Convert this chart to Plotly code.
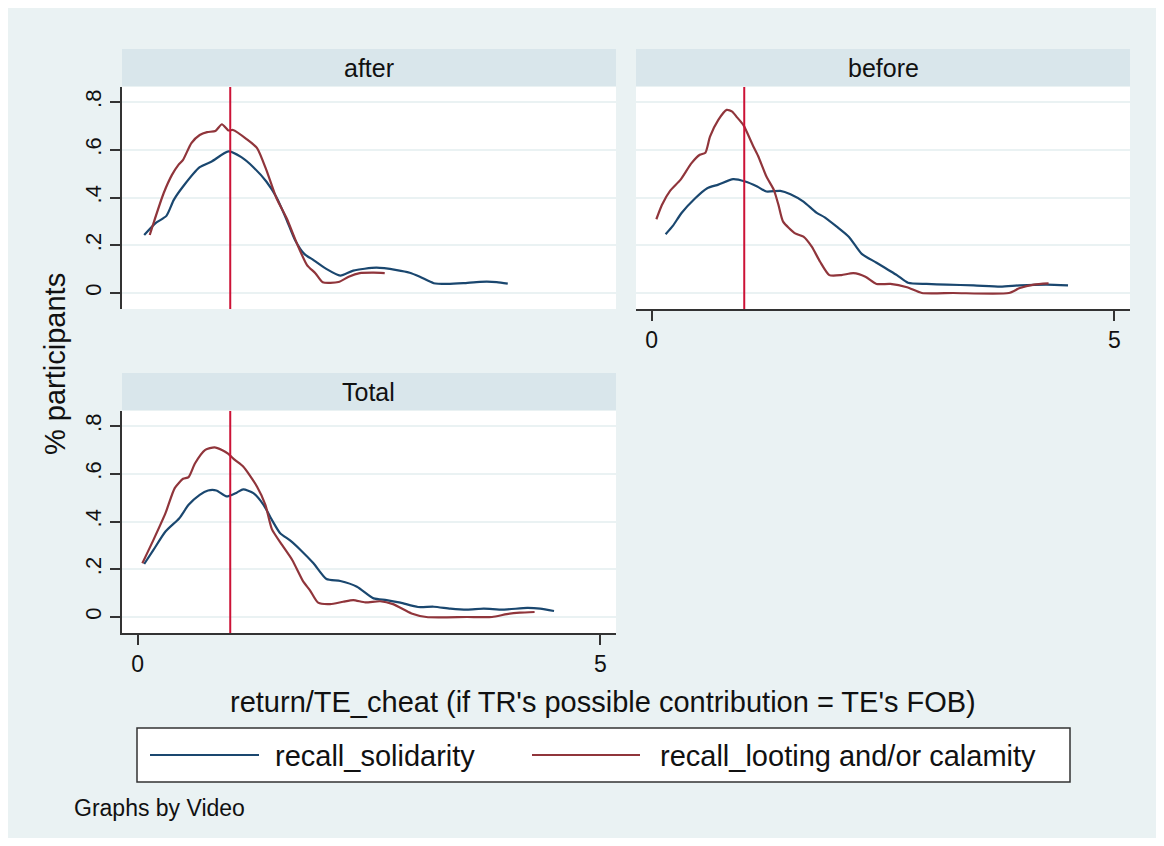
import plotly.graph_objects as go

# density-like curves, per panel (x = return/TE_cheat, y = % participants)
after_sol_x = [0.07, 0.19, 0.31, 0.39, 0.49, 0.67, 0.80, 0.98, 1.12, 1.25, 1.39, 1.50, 1.61, 1.70,
               1.80, 1.90, 2.03, 2.19, 2.33, 2.58, 2.80, 2.94, 3.05, 3.20, 3.34, 3.52, 3.70, 3.88, 4.00]
after_sol_y = [0.243, 0.292, 0.323, 0.390, 0.446, 0.527, 0.551, 0.593, 0.569, 0.527, 0.467, 0.401, 0.306, 0.222,
               0.164, 0.138, 0.103, 0.073, 0.094, 0.106, 0.096, 0.085, 0.068, 0.041, 0.038, 0.041, 0.047, 0.046, 0.039]
after_loot_x = [0.13, 0.17, 0.28, 0.37, 0.44, 0.49, 0.58, 0.67, 0.75, 0.84, 0.91, 0.98, 1.03, 1.18,
                1.29, 1.39, 1.50, 1.61, 1.72, 1.83, 1.92, 2.00, 2.17, 2.28, 2.40, 2.55, 2.67]
after_loot_y = [0.243, 0.292, 0.418, 0.495, 0.537, 0.558, 0.628, 0.662, 0.674, 0.679, 0.707, 0.681, 0.683, 0.644,
                0.607, 0.516, 0.397, 0.313, 0.208, 0.117, 0.083, 0.045, 0.046, 0.068, 0.083, 0.085, 0.083]

before_sol_x = [0.15, 0.23, 0.32, 0.47, 0.60, 0.72, 0.88, 1.01, 1.14, 1.24, 1.39, 1.50, 1.64, 1.78, 1.87,
                2.00, 2.13, 2.27, 2.43, 2.65, 2.77, 2.97, 3.19, 3.48, 3.77, 3.98, 4.27, 4.50]
before_sol_y = [0.246, 0.282, 0.334, 0.397, 0.439, 0.454, 0.477, 0.467, 0.446, 0.425, 0.428, 0.414, 0.383, 0.337, 0.317,
                0.278, 0.236, 0.164, 0.127, 0.075, 0.043, 0.038, 0.035, 0.032, 0.027, 0.032, 0.035, 0.032]
before_loot_x = [0.05, 0.11, 0.20, 0.31, 0.43, 0.52, 0.58, 0.63, 0.72, 0.81, 0.87, 0.92, 0.99, 1.10, 1.15,
                 1.24, 1.32, 1.37, 1.42, 1.55, 1.64, 1.73, 1.82, 1.92, 2.05, 2.18, 2.31, 2.43, 2.58,
                 2.76, 2.92, 3.26, 3.86, 3.98, 4.13, 4.29]
before_loot_y = [0.309, 0.369, 0.429, 0.474, 0.544, 0.579, 0.588, 0.655, 0.725, 0.767, 0.760, 0.737, 0.704, 0.613, 0.574,
                 0.488, 0.432, 0.369, 0.299, 0.250, 0.236, 0.194, 0.131, 0.075, 0.075, 0.083, 0.068, 0.038, 0.038,
                 0.024, 0.0, 0.0, 0.0, 0.021, 0.035, 0.040]

total_sol_x = [0.07, 0.17, 0.30, 0.45, 0.55, 0.67, 0.76, 0.85, 0.96, 1.07, 1.14, 1.25, 1.36, 1.45, 1.54, 1.65,
               1.76, 1.90, 2.04, 2.19, 2.37, 2.55, 2.69, 2.84, 3.03, 3.20, 3.38, 3.56, 3.74, 3.95, 4.21, 4.35, 4.50]
total_sol_y = [0.222, 0.281, 0.358, 0.414, 0.470, 0.512, 0.530, 0.530, 0.505, 0.521, 0.535, 0.519, 0.470, 0.407, 0.351, 0.320,
               0.281, 0.225, 0.159, 0.151, 0.127, 0.078, 0.071, 0.060, 0.042, 0.043, 0.035, 0.031, 0.035, 0.031, 0.038, 0.035, 0.025]
total_loot_x = [0.05, 0.17, 0.30, 0.40, 0.49, 0.55, 0.62, 0.73, 0.83, 0.91, 0.98, 1.05, 1.14, 1.29, 1.38, 1.45,
                1.56, 1.67, 1.79, 1.86, 1.95, 2.08, 2.22, 2.33, 2.46, 2.62, 2.76, 2.96, 3.12, 3.56, 3.83, 3.99, 4.13, 4.29]
total_loot_y = [0.225, 0.323, 0.435, 0.540, 0.579, 0.586, 0.644, 0.700, 0.711, 0.700, 0.683, 0.658, 0.630, 0.546, 0.470, 0.368,
                0.302, 0.239, 0.148, 0.113, 0.060, 0.054, 0.064, 0.071, 0.061, 0.066, 0.054, 0.015, 0.0, 0.0, 0.0, 0.012, 0.018, 0.021]

panels = ["after", "before", "Total"]
series_names = ["recall_solidarity", "recall_looting and/or calamity"]
ref_x = 1
y_ticks = [0, 0.2, 0.4, 0.6, 0.8]
y_ticktext = ["0", ".2", ".4", ".6", ".8"]
x_ticks = [0, 5]

BG = "#EAF2F3"
STRIP = "#D9E6EB"
BLUE = "#1A476F"
RED = "#90353B"
VLINE = "#CC1236"
AX = "#333333"
FONT = "Liberation Sans, Arial, Helvetica, sans-serif"

W, H = 1148, 830

def px(x):
    return x / W

def py(y):
    return 1 - y / H

data = {
    "after": (after_sol_x, after_sol_y, after_loot_x, after_loot_y),
    "before": (before_sol_x, before_sol_y, before_loot_x, before_loot_y),
    "Total": (total_sol_x, total_sol_y, total_loot_x, total_loot_y),
}

# panel boxes in figure pixels (left, right, top, bottom)
boxes = {
    "after": (114, 608, 79, 301),
    "before": (628, 1122, 79, 301),
    "Total": (114, 608, 403, 625),
}

fig = go.Figure()

for i, name in enumerate(panels, start=1):
    sx, sy, lx, ly = data[name]
    xa = "x" if i == 1 else f"x{i}"
    ya = "y" if i == 1 else f"y{i}"
    fig.add_trace(go.Scatter(x=sx, y=sy, mode="lines",
                             line=dict(color=BLUE, width=2.2, shape="spline", smoothing=0.6),
                             name=series_names[0], showlegend=False, xaxis=xa, yaxis=ya))
    fig.add_trace(go.Scatter(x=lx, y=ly, mode="lines",
                             line=dict(color=RED, width=2.2, shape="spline", smoothing=0.6),
                             name=series_names[1], showlegend=False, xaxis=xa, yaxis=ya))

    l, r, t, b = boxes[name]
    show_x = name != "after"
    show_y = name != "before"
    fig.layout[f"xaxis{'' if i == 1 else i}"] = dict(
        domain=[px(l), px(r)], anchor=ya, range=[-0.17, 5.17],
        showgrid=False, zeroline=False,
        showline=show_x, linecolor=AX, linewidth=1.5,
        ticks="outside" if show_x else "", ticklen=10, tickwidth=1.5, tickcolor=AX,
        tickvals=x_ticks, showticklabels=show_x,
        tickfont=dict(size=23, color="#111111", family=FONT),
    )
    fig.layout[f"yaxis{'' if i == 1 else i}"] = dict(
        domain=[py(b), py(t)], anchor=xa, range=[-0.067, 0.863],
        showgrid=True, gridcolor=BG, gridwidth=2, zeroline=False,
        showline=show_y, linecolor=AX, linewidth=1.5,
        ticks="outside" if show_y else "", ticklen=10, tickwidth=1.5, tickcolor=AX,
        tickvals=y_ticks, ticktext=y_ticktext, showticklabels=show_y, tickangle=-90,
        tickfont=dict(size=22, color="#111111", family=FONT),
    )

    # strip header
    fig.add_shape(type="rect", xref="paper", yref="paper",
                  x0=px(l), x1=px(r), y0=py(t - 1), y1=py(t - 38),
                  fillcolor=STRIP, line=dict(width=0), layer="below")
    fig.add_annotation(text=name, xref="paper", yref="paper", x=(px(l) + px(r)) / 2,
                       y=py(t - 19), xanchor="center", yanchor="middle", showarrow=False,
                       font=dict(size=25, color="#111111", family=FONT))

    # reference line at 1
    fig.add_shape(type="line", xref=xa, yref=f"{ya} domain", x0=ref_x, x1=ref_x, y0=0, y1=1,
                  line=dict(color=VLINE, width=2), layer="above")

# axis titles and note
fig.add_annotation(text="% participants", xref="paper", yref="paper", x=px(47), y=py(356),
                   xanchor="center", yanchor="middle", textangle=-90, showarrow=False,
                   font=dict(size=29, color="#111111", family=FONT))
fig.add_annotation(text="return/TE_cheat (if TR's possible contribution = TE's FOB)", xref="paper", yref="paper",
                   x=px(595), y=py(694), xanchor="center", yanchor="middle", showarrow=False,
                   font=dict(size=29, color="#111111", family=FONT))
fig.add_annotation(text="Graphs by Video", xref="paper", yref="paper", x=px(64), y=py(800),
                   xanchor="left", yanchor="middle", showarrow=False,
                   font=dict(size=23, color="#111111", family=FONT))

# legend box drawn by hand (long line samples like the original)
fig.add_shape(type="rect", xref="paper", yref="paper", x0=px(129), x1=px(1062), y0=py(774), y1=py(720),
              fillcolor="white", line=dict(color=AX, width=1.5))
legend_items = [(series_names[0], BLUE, 142, 251, 265), (series_names[1], RED, 524, 632, 650)]
for label, col, a, b2, tx in legend_items:
    fig.add_shape(type="line", xref="paper", yref="paper", x0=px(a), x1=px(b2), y0=py(747), y1=py(747),
                  line=dict(color=col, width=2.2))
    fig.add_annotation(text=label, xref="paper", yref="paper", x=px(tx), y=py(748),
                       xanchor="left", yanchor="middle", showarrow=False,
                       font=dict(size=29, color="#111111", family=FONT))

fig.update_layout(
    width=W, height=H, margin=dict(l=0, r=0, t=0, b=0),
    paper_bgcolor=BG, plot_bgcolor="white",
    font=dict(family=FONT, color="#111111"),
    showlegend=False,
)

fig.write_html("out.html")
